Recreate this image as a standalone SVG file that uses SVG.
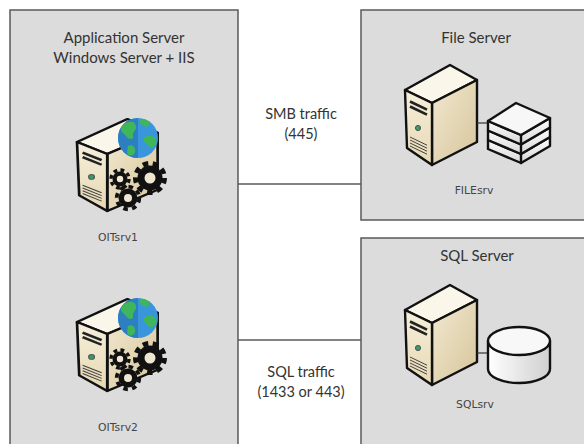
<svg xmlns="http://www.w3.org/2000/svg" width="584" height="444" viewBox="0 0 584 444">
  <style>
    .zone { fill: #dcdcdc; stroke: #5a5a5a; stroke-width: 1.5; }
    .title { font-family: Lato, "Open Sans", sans-serif; font-size: 15px; fill: #333; text-anchor: middle; }
    .traffic { font-family: Lato, "Open Sans", sans-serif; font-size: 14.5px; fill: #333; text-anchor: middle; }
    .host { font-family: "DejaVu Sans", Verdana, sans-serif; font-size: 10.8px; fill: #444; text-anchor: middle; }
    .link { stroke: #5a5a5a; stroke-width: 1.5; fill: none; }
    .edge { stroke: #111; stroke-width: 2.4; stroke-linejoin: round; stroke-linecap: round; }
    .gear { fill: #111; }
    .tooth { fill: none; stroke: #111; }
  </style>
  <defs>
    <linearGradient id="frontGrad" x1="0" y1="0" x2="0" y2="1">
      <stop offset="0" stop-color="#f6efdb"/>
      <stop offset="1" stop-color="#e6d8b2"/>
    </linearGradient>
    <linearGradient id="sideGrad" x1="0" y1="0" x2="1" y2="1">
      <stop offset="0" stop-color="#f2e9d0"/>
      <stop offset="1" stop-color="#d6c59b"/>
    </linearGradient>
    <linearGradient id="slabGrad" x1="0" y1="0" x2="0" y2="1">
      <stop offset="0" stop-color="#ffffff"/>
      <stop offset="1" stop-color="#d8d8d8"/>
    </linearGradient>
    <linearGradient id="cylGrad" x1="0" y1="0" x2="1" y2="0">
      <stop offset="0" stop-color="#ffffff"/>
      <stop offset="1" stop-color="#cfcfcf"/>
    </linearGradient>
    <clipPath id="globeClip"><circle cx="0" cy="0" r="20"/></clipPath>

    <!-- isometric server tower, 72 x 100 -->
    <g id="tower">
      <polygon points="0,25 45,0 72,15 27,38" fill="#faf6ea" class="edge"/>
      <polygon points="27,38 72,15 72,77 27,100" fill="url(#sideGrad)" class="edge"/>
      <polygon points="0,25 27,38 27,100 2,83" fill="url(#frontGrad)" class="edge"/>
      <line x1="5" y1="36.5" x2="22" y2="44.7" stroke="#222" stroke-width="2.6"/>
      <line x1="5" y1="41.5" x2="22" y2="49.7" stroke="#222" stroke-width="2.6"/>
      <circle cx="13" cy="63" r="2.6" fill="#3a9a6a" stroke="#555" stroke-width="1"/>
      <g stroke="#444" stroke-width="1">
        <line x1="5" y1="72" x2="22" y2="80.2"/>
        <line x1="5" y1="75" x2="22" y2="83.2"/>
        <line x1="5" y1="78" x2="22" y2="86.2"/>
        <line x1="5" y1="81" x2="22" y2="89.2"/>
      </g>
    </g>

    <!-- globe, centred on the origin -->
    <g id="globe">
      <circle r="20" fill="#3a96dc"/>
      <g clip-path="url(#globeClip)">
        <rect x="-20" y="-20" width="20" height="40" fill="#2d7fc2"/>
        <path d="M-16,-12 C-10,-18 -3,-17 -2,-12 C-1,-8 -6,-6 -5,-2 C-4,2 -10,2 -12,-2 C-14,-5 -19,-6 -16,-12 Z" fill="#3fb65a"/>
        <path d="M2,-19 C7,-20 12,-17 11,-13 C9,-10 4,-12 2,-15 Z" fill="#3fb65a"/>
        <path d="M6,0 C10,-4 16,-3 18,1 C20,6 16,10 12,9 C9,8 9,5 6,4 Z" fill="#3fb65a"/>
        <path d="M-10,8 C-6,6 -2,9 -3,14 C-4,18 -9,19 -11,15 Z" fill="#3fb65a"/>
      </g>
    </g>

    <!-- cogs: body, toothed ring, hub -->
    <g id="cogs">
      <circle cx="2" cy="41" r="7.5" class="gear"/>
      <circle cx="2" cy="41" r="9" class="tooth" stroke-width="3.4" stroke-dasharray="3.8 3.3"/>
      <circle cx="2" cy="41" r="3.2" fill="#eee6d0"/>
      <circle cx="32" cy="40" r="12.5" class="gear"/>
      <circle cx="32" cy="40" r="14.5" class="tooth" stroke-width="5" stroke-dasharray="5.5 4.6"/>
      <circle cx="32" cy="40" r="5.5" fill="#eee6d0"/>
      <circle cx="10" cy="60" r="9.5" class="gear"/>
      <circle cx="10" cy="60" r="11.3" class="tooth" stroke-width="3.8" stroke-dasharray="4.6 4.3"/>
      <circle cx="10" cy="60" r="4" fill="#eee6d0"/>
    </g>
  </defs>

  <rect width="584" height="444" fill="#ffffff"/>

  <!-- network links -->
  <g id="connectors">
    <line class="link" x1="238" y1="184" x2="361" y2="184"/>
    <line class="link" x1="238" y1="340" x2="361" y2="340"/>
    <text class="traffic" x="301" y="119">SMB traffic</text>
    <text class="traffic" x="301" y="139">(445)</text>
    <text class="traffic" x="301" y="377">SQL traffic</text>
    <text class="traffic" x="301" y="397">(1433 or 443)</text>
  </g>

  <!-- application tier -->
  <g id="app-server">
    <rect class="zone" x="10" y="10" width="228" height="460"/>
    <text class="title" x="124" y="43">Application Server</text>
    <text class="title" x="124" y="63">Windows Server + IIS</text>
  </g>

  <g id="oitsrv1">
    <use href="#tower" transform="translate(77,119) scale(1.12,0.92)"/>
    <use href="#globe" transform="translate(138,138)"/>
    <use href="#cogs" transform="translate(118,138)"/>
    <text class="host" x="118" y="241">OITsrv1</text>
  </g>

  <g id="oitsrv2">
    <use href="#tower" transform="translate(77,299) scale(1.12,0.92)"/>
    <use href="#globe" transform="translate(138,318)"/>
    <use href="#cogs" transform="translate(118,318)"/>
    <text class="host" x="118" y="431">OITsrv2</text>
  </g>

  <!-- file tier -->
  <g id="file-server">
    <rect class="zone" x="361" y="10" width="240" height="210"/>
    <text class="title" x="476" y="43">File Server</text>
    <use href="#tower" transform="translate(405,65)"/>
    <line x1="477" y1="123" x2="488" y2="123" stroke="#333" stroke-width="1.2"/>
    <g class="edge">
      <polygon points="488,140 521,154 550,137 550,146 521,163 488,149" fill="url(#slabGrad)"/>
      <polygon points="488,130.5 521,144.5 550,127.5 550,137 521,154 488,140" fill="url(#slabGrad)"/>
      <polygon points="488,121 521,135 550,118 550,127.5 521,144.5 488,130.5" fill="url(#slabGrad)"/>
      <polygon points="488,121 516,103 550,118 521,135" fill="#f7f7f7"/>
      <line x1="521" y1="135" x2="521" y2="163"/>
    </g>
    <text class="host" x="474" y="194">FILEsrv</text>
  </g>

  <!-- database tier -->
  <g id="sql-server">
    <rect class="zone" x="361" y="238" width="240" height="232"/>
    <text class="title" x="477" y="261">SQL Server</text>
    <use href="#tower" transform="translate(405,285)"/>
    <line x1="477" y1="353" x2="488" y2="353" stroke="#333" stroke-width="1.2"/>
    <path class="edge" d="M488,341 L488,369 A31,14 0 0 0 550,369 L550,341" fill="url(#cylGrad)"/>
    <ellipse class="edge" cx="519" cy="341" rx="31" ry="14" fill="#f8f8f8"/>
    <text class="host" x="475" y="408">SQLsrv</text>
  </g>
</svg>
